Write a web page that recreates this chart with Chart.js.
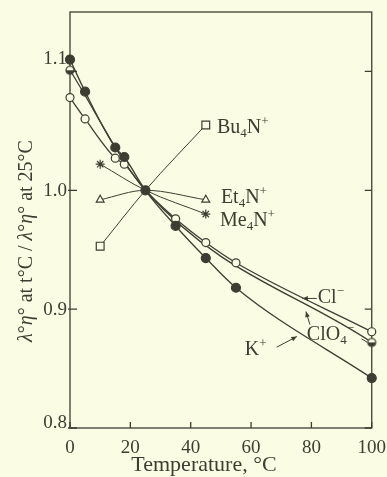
<!DOCTYPE html>
<html lang="en">
<head>
<meta charset="utf-8">
<title>Walden product vs temperature</title>
<script src="https://cdn.jsdelivr.net/npm/chart.js"></script>
<style>
    html, body { margin: 0; padding: 0; background: #fafce3; }
    canvas { display: block; }
</style>
</head>
<body>
<canvas id="walden" width="387" height="477"></canvas>
<script>
// values: lambda0*eta0 at t / lambda0*eta0 at 25 C
const kTemps = [0, 5, 15, 18, 25, 35, 45, 55, 100];
const kValues = [1.110, 1.083, 1.036, 1.028, 1.000, 0.970, 0.943, 0.918, 0.842];
const clTemps = [0, 5, 15, 18, 25, 35, 45, 55, 100];
const clValues = [1.078, 1.060, 1.027, 1.022, 1.000, 0.976, 0.956, 0.939, 0.881];
const clo4Temps = [0, 25, 100];
const clo4Values = [1.101, 1.000, 0.872];
const bu4nTemps = [10, 25, 45];
const bu4nValues = [0.953, 1.000, 1.055];
const et4nTemps = [10, 25, 45];
const et4nValues = [0.992, 1.000, 0.992];
const me4nTemps = [10, 25, 45];
const me4nValues = [1.022, 1.000, 0.980];
const xTicks = [0, 20, 40, 60, 80, 100];
const yTicks = [0.8, 0.9, 1.0, 1.1];

const ink = '#3d3d33';
const paper = '#fafce3';
const serif = '"Liberation Serif", "Times New Roman", serif';

function pts(xs, ys) {
    return xs.map((t, i) => ({ x: t, y: ys[i] }));
}

// circle with the lower half filled, for ClO4-
function halfDot(r) {
    const s = Math.ceil(r * 2 + 4);
    const c = document.createElement('canvas');
    c.width = s; c.height = s;
    const g = c.getContext('2d');
    g.translate(s / 2, s / 2);
    g.fillStyle = paper;
    g.beginPath(); g.arc(0, 0, r, 0, Math.PI * 2); g.fill();
    g.fillStyle = ink;
    g.beginPath(); g.arc(0, 0, r, 0, Math.PI); g.closePath(); g.fill();
    g.strokeStyle = ink; g.lineWidth = 1.2;
    g.beginPath(); g.arc(0, 0, r, 0, Math.PI * 2); g.stroke();
    return c;
}

// hide the marker at 25 C where every curve meets the K+ dot
const skip25 = r => ctx => (ctx.raw && ctx.raw.x === 25) ? 0 : r;

function series(data, style) {
    return Object.assign({
        data: data,
        borderColor: ink,
        borderWidth: 1.3,
        pointBorderColor: ink,
        pointBorderWidth: 1.2,
        pointBackgroundColor: paper,
        cubicInterpolationMode: 'monotone',
        clip: false
    }, style);
}

// rich label: parts are [text, 'sub' | 'sup' | undefined]
function drawTag(ctx, parts, x, y) {
    let cx = x;
    parts.forEach(([t, kind]) => {
        const size = kind ? 13 : 20;
        const dy = kind === 'sub' ? 4 : kind === 'sup' ? -8 : 0;
        ctx.font = size + 'px ' + serif;
        ctx.fillText(t, cx, y + dy);
        cx += ctx.measureText(t).width;
    });
}

function arrow(ctx, x0, y0, x1, y1) {
    const a = Math.atan2(y1 - y0, x1 - x0);
    ctx.beginPath();
    ctx.moveTo(x0, y0); ctx.lineTo(x1, y1);
    ctx.stroke();
    ctx.beginPath();
    ctx.moveTo(x1, y1);
    ctx.lineTo(x1 - 6 * Math.cos(a - 0.4), y1 - 6 * Math.sin(a - 0.4));
    ctx.lineTo(x1 - 6 * Math.cos(a + 0.4), y1 - 6 * Math.sin(a + 0.4));
    ctx.closePath();
    ctx.fill();
}

const frame = {
    id: 'frame',
    beforeDatasetsDraw(chart) {
        const { ctx, chartArea: a, scales: { x, y } } = chart;
        ctx.save();
        ctx.strokeStyle = ink;
        ctx.lineWidth = 1.3;
        ctx.strokeRect(a.left, a.top, a.right - a.left, a.bottom - a.top);
        ctx.beginPath();
        xTicks.forEach(v => {
            const px = x.getPixelForValue(v);
            ctx.moveTo(px, a.bottom); ctx.lineTo(px, a.bottom - 6);
        });
        yTicks.forEach(v => {
            const py = y.getPixelForValue(v);
            ctx.moveTo(a.left - 2, py); ctx.lineTo(a.left + 7, py);
            ctx.moveTo(a.right, py); ctx.lineTo(a.right - 7, py);
        });
        ctx.stroke();
        ctx.restore();
    },
    afterDraw(chart) {
        const { ctx, chartArea: a, scales: { x, y } } = chart;
        const P = (t, v) => [x.getPixelForValue(t), y.getPixelForValue(v)];
        ctx.save();
        ctx.fillStyle = ink;
        ctx.strokeStyle = ink;
        ctx.lineWidth = 1;

        // y tick labels (the top one sits a little high, as printed)
        ctx.font = '19px ' + serif;
        ctx.textAlign = 'right';
        ctx.textBaseline = 'middle';
        yTicks.forEach(v => {
            const py = y.getPixelForValue(v) + (v > 1.05 ? -12 : v < 0.85 ? -5 : 1);
            ctx.fillText(v.toFixed(1), a.left - 3, py);
        });

        // axis titles
        ctx.textAlign = 'center';
        ctx.textBaseline = 'alphabetic';
        ctx.font = '22px ' + serif;
        ctx.fillText('Temperature, °C', 204, 471);

        ctx.save();
        ctx.translate(32, 241);
        ctx.rotate(-Math.PI / 2);
        const yTitle = [['λ', 1], ['°'], ['η', 1], ['° at t°C / '], ['λ', 1], ['°'], ['η', 1], ['° at 25°C']];
        let w = 0;
        yTitle.forEach(([t, it]) => {
            ctx.font = (it ? 'italic ' : '') + '20px ' + serif;
            w += ctx.measureText(t).width;
        });
        ctx.textAlign = 'left';
        let cx = -w / 2;
        yTitle.forEach(([t, it]) => {
            ctx.font = (it ? 'italic ' : '') + '20px ' + serif;
            ctx.fillText(t, cx, 0);
            cx += ctx.measureText(t).width;
        });
        ctx.restore();

        // curve labels
        ctx.textAlign = 'left';
        ctx.textBaseline = 'alphabetic';
        const tags = [
            { parts: [['Bu'], ['4', 'sub'], ['N'], ['+', 'sup']], at: [48.7, 1.054] },
            { parts: [['Et'], ['4', 'sub'], ['N'], ['+', 'sup']], at: [50.0, 0.995] },
            { parts: [['Me'], ['4', 'sub'], ['N'], ['+', 'sup']], at: [49.7, 0.976] },
            { parts: [['Cl'], ['−', 'sup']], at: [82.1, 0.911] },
            { parts: [['ClO'], ['4', 'sub'], ['−', 'sup']], at: [78.5, 0.880] },
            { parts: [['K'], ['+', 'sup']], at: [57.9, 0.867] }
        ];
        tags.forEach(tag => {
            const [px, py] = P(tag.at[0], tag.at[1]);
            drawTag(ctx, tag.parts, px, py + 7);
        });

        // pointer arrows to the three ion curves
        arrow(ctx, ...P(68.5, 0.868), ...P(75.2, 0.877));
        arrow(ctx, ...P(81.8, 0.909), ...P(77.0, 0.909));
        arrow(ctx, ...P(79.5, 0.887), ...P(78.2, 0.898));
        ctx.beginPath();
        ctx.moveTo(...P(96.6, 0.875)); ctx.lineTo(...P(98.6, 0.872));
        ctx.stroke();
        ctx.restore();
    }
};

new Chart(document.getElementById('walden'), {
    type: 'line',
    data: {
        datasets: [
            series(pts(kTemps, kValues), {
                label: 'K+', pointStyle: 'circle', pointRadius: 4.5,
                pointBackgroundColor: ink
            }),
            series(pts(clTemps, clValues), {
                label: 'Cl-', pointStyle: 'circle', pointRadius: skip25(4)
            }),
            series(pts(clo4Temps, clo4Values), {
                label: 'ClO4-', pointStyle: halfDot(4), pointRadius: skip25(4)
            }),
            series(pts(bu4nTemps, bu4nValues), {
                label: 'Bu4N+', pointStyle: 'rect', pointRadius: skip25(5.5), borderWidth: 1
            }),
            series(pts(et4nTemps, et4nValues), {
                label: 'Et4N+', pointStyle: 'triangle', pointRadius: skip25(4.5), borderWidth: 1
            }),
            series(pts(me4nTemps, me4nValues), {
                label: 'Me4N+', pointStyle: 'star', pointRadius: skip25(4.5), borderWidth: 1
            })
        ]
    },
    options: {
        responsive: false,
        animation: false,
        layout: { padding: { top: 12, right: 15, left: 0, bottom: 0 } },
        plugins: { legend: { display: false }, tooltip: { enabled: false } },
        scales: {
            x: {
                type: 'linear', min: 0, max: 100,
                grid: { display: false }, border: { display: false },
                afterBuildTicks: s => { s.ticks = xTicks.map(v => ({ value: v })); },
                afterFit: s => { s.height = 49; },
                ticks: { color: ink, font: { family: serif, size: 19 }, padding: 1, maxRotation: 0 }
            },
            y: {
                type: 'linear', min: 0.8, max: 1.15,
                grid: { display: false }, border: { display: false },
                ticks: { display: false },
                afterFit: s => { s.width = 70; }
            }
        }
    },
    plugins: [frame]
});
</script>
</body>
</html>
